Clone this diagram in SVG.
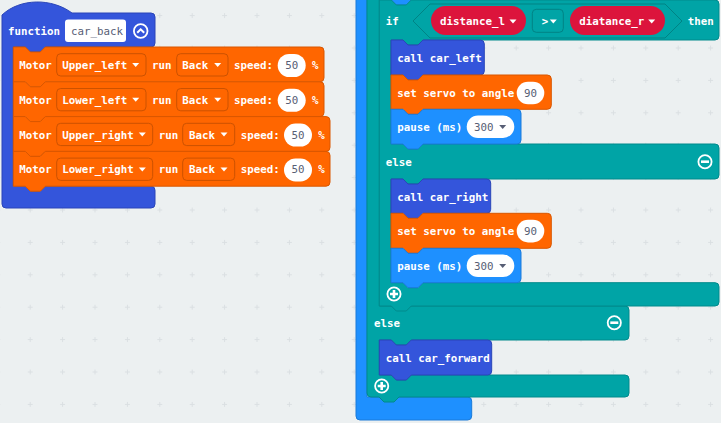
<svg xmlns="http://www.w3.org/2000/svg" width="721" height="423" viewBox="0 0 721 423">
<style>
.t{font-family:"DejaVu Sans Mono","Liberation Mono",monospace;font-size:10.8px;font-weight:bold;fill:#fff}
.v{font-family:"DejaVu Sans Mono","Liberation Mono",monospace;font-size:10.8px;font-weight:normal;fill:#575e75}
.mid{text-anchor:middle}
.fn{fill:#3455db;stroke:#2a45b8;stroke-width:1}
.or{fill:#ff6600;stroke:#d95700;stroke-width:1}
.tl{fill:#00a4a6;stroke:#008a8c;stroke-width:1}
.bl{fill:#1e90ff;stroke:#1a7ad9;stroke-width:1}
.rd{fill:#dc143c}
.ddo{fill:#ff6600;stroke:#cc5200;stroke-width:1}
.ddt{fill:none;stroke:#008385;stroke-width:1}
.wo{fill:#fff}
.aw{fill:#fff}
.ad{fill:#575e75}
.ic{fill:none;stroke:#fff;stroke-width:1.8}
.ib{fill:none;stroke:#fff;stroke-width:2.6}
</style>
<defs>
<pattern id="grid" patternUnits="userSpaceOnUse" x="14" y="-0.6" width="32.4" height="32.4">
<path d="M13.7,16.2 H18.7 M16.2,13.7 V18.7" stroke="#dadfe2" stroke-width="1" fill="none"/>
</pattern>
</defs>
<rect x="0" y="0" width="721" height="423" fill="#ecf0f1"/>
<rect x="0" y="0" width="721" height="423" fill="url(#grid)"/>

<g id="connectors"></g>

<g id="function_car_back">
<path class="fn" d="M2,15 C20,-2 52,-2 72,13 H151 A4,4 0 0 1 155,17 V43 A4,4 0 0 1 151,47 H45.3 L40.3,52 H30.3 L25.3,47 H13.3 V186.2 H25.3 L30.3,191.2 H40.3 L45.3,186.2 H151 A4,4 0 0 1 155,190.2 V204 A4,4 0 0 1 151,208 H6 A4,4 0 0 1 2,204 Z"/>
<text class="t" x="8" y="35.3">function</text>
<rect class="wo" x="65" y="19.5" width="61" height="22.5" rx="3"/>
<text class="v" x="71" y="35.3">car_back</text>
<circle class="ic" cx="140.7" cy="31" r="6.8"/>
<polyline points="137.2,32.8 140.7,29.3 144.2,32.8" fill="none" stroke="#fff" stroke-width="2"/>
</g>

<g id="motor_upper_left">
<path class="or" d="M13.3,47 H25.3 L30.3,52 H40.3 L45.3,47 H320 A4,4 0 0 1 324,51 V77.8 A4,4 0 0 1 320,81.8 H45.3 L40.3,86.8 H30.3 L25.3,81.8 H13.3 Z"/>
<text class="t" x="19.3" y="69">Motor</text>
<rect class="ddo" x="56.7" y="53.7" width="89.3" height="22.3" rx="4"/>
<text class="t" x="62.3" y="69">Upper_left</text>
<polygon class="aw" points="132.2,63 139.2,63 135.7,67"/>
<text class="t" x="152" y="69">run</text>
<rect class="ddo" x="176.7" y="53.7" width="51.3" height="22.3" rx="4"/>
<text class="t" x="182.3" y="69">Back</text>
<polygon class="aw" points="214.2,63 221.2,63 217.7,67"/>
<text class="t" x="234" y="69">speed:</text>
<rect class="wo" x="277.7" y="54" width="28" height="23" rx="11.5"/>
<text class="v mid" x="291.7" y="69">50</text>
<text class="t" x="312" y="69">%</text>
</g>

<g id="motor_lower_left">
<path class="or" d="M13.3,81.8 H25.3 L30.3,86.8 H40.3 L45.3,81.8 H320 A4,4 0 0 1 324,85.8 V112.6 A4,4 0 0 1 320,116.6 H45.3 L40.3,121.6 H30.3 L25.3,116.6 H13.3 Z"/>
<text class="t" x="19.3" y="103.8">Motor</text>
<rect class="ddo" x="56.7" y="88.5" width="89.3" height="22.3" rx="4"/>
<text class="t" x="62.3" y="103.8">Lower_left</text>
<polygon class="aw" points="132.2,97.8 139.2,97.8 135.7,101.8"/>
<text class="t" x="152" y="103.8">run</text>
<rect class="ddo" x="176.7" y="88.5" width="51.3" height="22.3" rx="4"/>
<text class="t" x="182.3" y="103.8">Back</text>
<polygon class="aw" points="214.2,97.8 221.2,97.8 217.7,101.8"/>
<text class="t" x="234" y="103.8">speed:</text>
<rect class="wo" x="277.7" y="88.8" width="28" height="23" rx="11.5"/>
<text class="v mid" x="291.7" y="103.8">50</text>
<text class="t" x="312" y="103.8">%</text>
</g>

<g id="motor_upper_right">
<path class="or" d="M13.3,116.6 H25.3 L30.3,121.6 H40.3 L45.3,116.6 H326 A4,4 0 0 1 330,120.6 V147.4 A4,4 0 0 1 326,151.4 H45.3 L40.3,156.4 H30.3 L25.3,151.4 H13.3 Z"/>
<text class="t" x="19.3" y="138.6">Motor</text>
<rect class="ddo" x="56.7" y="123.3" width="96" height="22.3" rx="4"/>
<text class="t" x="62.3" y="138.6">Upper_right</text>
<polygon class="aw" points="138.8,132.6 145.8,132.6 142.3,136.6"/>
<text class="t" x="158.7" y="138.6">run</text>
<rect class="ddo" x="182.7" y="123.3" width="52" height="22.3" rx="4"/>
<text class="t" x="189" y="138.6">Back</text>
<polygon class="aw" points="220.5,132.6 227.5,132.6 224,136.6"/>
<text class="t" x="240.7" y="138.6">speed:</text>
<rect class="wo" x="284" y="123.6" width="28" height="23" rx="11.5"/>
<text class="v mid" x="298" y="138.6">50</text>
<text class="t" x="318.3" y="138.6">%</text>
</g>

<g id="motor_lower_right">
<path class="or" d="M13.3,151.4 H25.3 L30.3,156.4 H40.3 L45.3,151.4 H326 A4,4 0 0 1 330,155.4 V182.2 A4,4 0 0 1 326,186.2 H45.3 L40.3,191.2 H30.3 L25.3,186.2 H13.3 Z"/>
<text class="t" x="19.3" y="173.4">Motor</text>
<rect class="ddo" x="56.7" y="158.1" width="96" height="22.3" rx="4"/>
<text class="t" x="62.3" y="173.4">Lower_right</text>
<polygon class="aw" points="138.8,167.4 145.8,167.4 142.3,171.4"/>
<text class="t" x="158.7" y="173.4">run</text>
<rect class="ddo" x="182.7" y="158.1" width="52" height="22.3" rx="4"/>
<text class="t" x="189" y="173.4">Back</text>
<polygon class="aw" points="220.5,167.4 227.5,167.4 224,171.4"/>
<text class="t" x="240.7" y="173.4">speed:</text>
<rect class="wo" x="284" y="158.4" width="28" height="23" rx="11.5"/>
<text class="v mid" x="298" y="173.4">50</text>
<text class="t" x="318.3" y="173.4">%</text>
</g>

<g id="outer_blue_block">
<path class="bl" d="M356,-10 H367 V397 H467.7 A4,4 0 0 1 471.7,401 V416 A4,4 0 0 1 467.7,420 H360 A4,4 0 0 1 356,416 Z"/>
</g>

<g id="outer_if_else">
<path class="tl" d="M367,-10 H379.3 V306 H625 A4,4 0 0 1 629,310 V336 A4,4 0 0 1 625,340 H411.3 L406.3,345 H396.3 L391.3,340 H379.3 V375 H391.3 L396.3,380 H406.3 L411.3,375 H625 A4,4 0 0 1 629,379 V393 A4,4 0 0 1 625,397 H399 L394,402 H384 L379,397 H371 A4,4 0 0 1 367,393 Z"/>
<text class="t" x="374" y="327">else</text>
<circle class="ic" cx="614.3" cy="322.7" r="6.6"/>
<path class="ib" d="M610.3,322.7 H618.3"/>
<circle class="ic" cx="381.7" cy="386" r="6.6"/>
<path class="ib" d="M377.7,386 H385.7 M381.7,382 V390"/>
</g>

<g id="block_above_tab">
<path class="bl" d="M391.3,-4 H411.3 V0 L406.3,5 H396.3 L391.3,0 Z" stroke="none"/>
</g>

<g id="inner_if_else">
<path class="tl" d="M379.3,0 H391.3 L396.3,5 H406.3 L411.3,0 H715 A4,4 0 0 1 719,4 V36 A4,4 0 0 1 715,40 H423 L418,45 H408 L403,40 H391 V144 H403 L408,149 H418 L423,144 H715 A4,4 0 0 1 719,148 V175 A4,4 0 0 1 715,179 H423 L418,184 H408 L403,179 H391 V282.7 H403 L408,287.7 H418 L423,282.7 H715 A4,4 0 0 1 719,286.7 V302 A4,4 0 0 1 715,306 H411.3 L406.3,311 H396.3 L391.3,306 H379.3 Z"/>
<text class="t" x="385.7" y="25">if</text>
<polygon points="413,21 430,4 665,4 682,21 665,38 430,38" fill="#00a4a6" stroke="#008385" stroke-width="1"/>
<text class="t" x="687.7" y="25">then</text>
<text class="t" x="385.7" y="166">else</text>
<circle class="ic" cx="705" cy="161.7" r="6.6"/>
<path class="ib" d="M701,161.7 H709"/>
<circle class="ic" cx="394" cy="294" r="6.6"/>
<path class="ib" d="M390,294 H398 M394,290 V298"/>
</g>

<g id="var_distance_l">
<rect class="rd" x="431" y="6" width="95" height="29" rx="14.5"/>
<text class="t" x="440" y="25">distance_l</text>
<polygon class="aw" points="509.5,19.5 516.5,19.5 513,23.5"/>
</g>

<g id="op_gt">
<rect class="ddt" x="532.3" y="9.3" width="31" height="23" rx="4"/>
<text class="t" x="541.7" y="25">&gt;</text>
<polygon class="aw" points="549.8,19.5 556.8,19.5 553.3,23.5"/>
</g>

<g id="var_diatance_r">
<rect class="rd" x="570" y="6" width="95" height="29" rx="14.5"/>
<text class="t" x="579.3" y="25">diatance_r</text>
<polygon class="aw" points="648.2,19.5 655.2,19.5 651.7,23.5"/>
</g>

<g id="call_car_left">
<path class="fn" d="M391,40 H403 L408,45 H418 L423,40 H480.3 A4,4 0 0 1 484.3,44 V71 A4,4 0 0 1 480.3,75 H423 L418,80 H408 L403,75 H391 Z"/>
<text class="t" x="397.3" y="62">call car_left</text>
</g>

<g id="set_servo_1">
<path class="or" d="M391,75 H403 L408,80 H418 L423,75 H547.3 A4,4 0 0 1 551.3,79 V105.3 A4,4 0 0 1 547.3,109.3 H423 L418,114.3 H408 L403,109.3 H391 Z"/>
<text class="t" x="397.3" y="97">set servo to angle</text>
<rect class="wo" x="516.7" y="81.7" width="27.6" height="22.6" rx="11.3"/>
<text class="v mid" x="530.5" y="97">90</text>
</g>

<g id="pause_1">
<path class="bl" d="M391,109.3 H403 L408,114.3 H418 L423,109.3 H517 A4,4 0 0 1 521,113.3 V140 A4,4 0 0 1 517,144 H423 L418,149 H408 L403,144 H391 Z"/>
<text class="t" x="397.3" y="131">pause (ms)</text>
<rect class="wo" x="466.7" y="115.4" width="47.6" height="22.6" rx="11.3"/>
<text class="v" x="474" y="131">300</text>
<polygon class="ad" points="499.2,125 506.2,125 502.7,129"/>
</g>

<g id="call_car_right">
<path class="fn" d="M391,179 H403 L408,184 H418 L423,179 H486.7 A4,4 0 0 1 490.7,183 V209.3 A4,4 0 0 1 486.7,213.3 H423 L418,218.3 H408 L403,213.3 H391 Z"/>
<text class="t" x="397.3" y="200.5">call car_right</text>
</g>

<g id="set_servo_2">
<path class="or" d="M391,213.3 H403 L408,218.3 H418 L423,213.3 H547.3 A4,4 0 0 1 551.3,217.3 V244.3 A4,4 0 0 1 547.3,248.3 H423 L418,253.3 H408 L403,248.3 H391 Z"/>
<text class="t" x="397.3" y="235.3">set servo to angle</text>
<rect class="wo" x="516.7" y="219.8" width="27.6" height="22.6" rx="11.3"/>
<text class="v mid" x="530.5" y="235.3">90</text>
</g>

<g id="pause_2">
<path class="bl" d="M391,248.3 H403 L408,253.3 H418 L423,248.3 H517 A4,4 0 0 1 521,252.3 V278.7 A4,4 0 0 1 517,282.7 H423 L418,287.7 H408 L403,282.7 H391 Z"/>
<text class="t" x="397.3" y="270">pause (ms)</text>
<rect class="wo" x="466.7" y="254.5" width="47.6" height="22.6" rx="11.3"/>
<text class="v" x="474" y="270">300</text>
<polygon class="ad" points="499.2,264 506.2,264 502.7,268"/>
</g>

<g id="call_car_forward">
<path class="fn" d="M379.3,340 H391.3 L396.3,345 H406.3 L411.3,340 H487.7 A4,4 0 0 1 491.7,344 V371 A4,4 0 0 1 487.7,375 H411.3 L406.3,380 H396.3 L391.3,375 H379.3 Z"/>
<text class="t" x="385.7" y="362">call car_forward</text>
</g>
</svg>
